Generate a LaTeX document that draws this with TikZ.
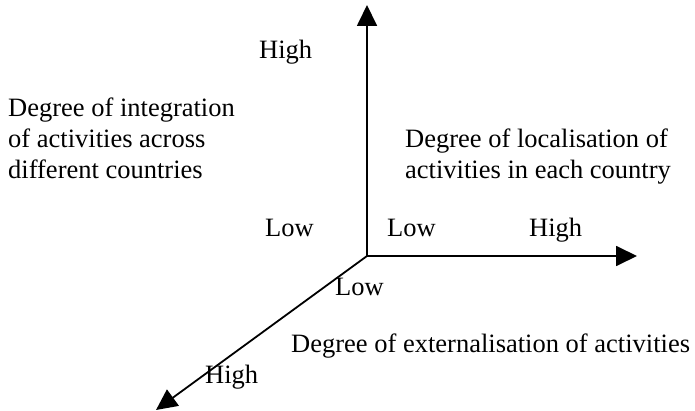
\documentclass[tikz,border=0pt]{standalone}
\usepackage{fontspec}
\setmainfont{Liberation Serif}
\usetikzlibrary{arrows.meta}
\begin{document}
\begin{tikzpicture}[x=1pt,y=-1pt,
  axis/.style={line width=1.8pt,-{Triangle[length=21pt,width=20pt]}},
  lbl/.style={inner sep=0pt,anchor=base west,font=\fontsize{26.5}{31}\selectfont}]
\useasboundingbox (0,0) rectangle (695,411);
\coordinate (o) at (367,256);
\coordinate (top) at (367,5);
\coordinate (right) at (637,256);
\coordinate (dl) at (156,410);
\draw[axis] (o) -- (top);
\draw[axis] (o) -- (right);
\draw[axis] (o) -- (dl);
\node[lbl] (h1) at (259,59) {High};
\node[lbl] (integ1) at (8,117) {Degree of integration};
\node[lbl] (integ2) at (8,148) {of activities across};
\node[lbl] (integ3) at (8,179) {different countries};
\node[lbl] (local1) at (405,148) {Degree of localisation of};
\node[lbl] (local2) at (405,179) {activities in each country};
\node[lbl] (l1) at (265,237) {Low};
\node[lbl] (l2) at (387,237) {Low};
\node[lbl] (h2) at (529,237) {High};
\node[lbl] (l3) at (335,295) {Low};
\node[lbl] (ext) at (291,352) {Degree of externalisation of activities};
\node[lbl] (h3) at (205,383) {High};
\end{tikzpicture}
\end{document}
